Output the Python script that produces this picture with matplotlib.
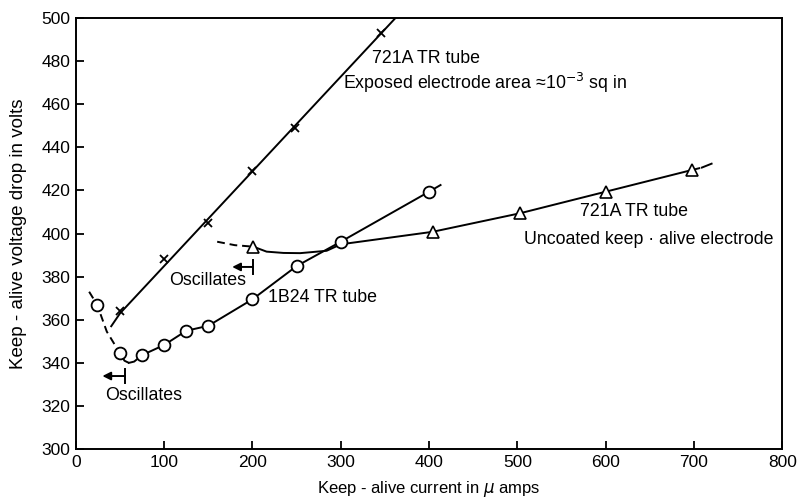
import matplotlib
matplotlib.use("Agg")
import matplotlib.pyplot as plt

plt.rcParams['font.family'] = ['Liberation Sans', 'DejaVu Sans']

# 721A TR tube, exposed electrode (x markers)
cross_x = [50, 100, 150, 200, 248, 345]
cross_y = [364, 388, 405, 429, 449, 493]
cross_line_x = [40, 50, 362]
cross_line_y = [357, 363, 500]

# 1B24 TR tube (circles)
circ_x = [24, 50, 75, 100, 125, 150, 200, 250, 300, 400]
circ_y = [367, 344.4, 343.6, 348.3, 354.9, 357.2, 369.5, 384.9, 396.2, 419.4]
circ_dash_x = [15, 24, 35, 50, 55, 60]
circ_dash_y = [373, 367, 354.5, 344.4, 341, 340]
circ_line_x = [60, 66, 75, 100, 125, 150, 200, 250, 300, 400, 413]
circ_line_y = [340, 340.6, 343.6, 348.3, 354.9, 357.2, 369.5, 384.9, 396.2, 419.4, 422.5]

# 721A TR tube, uncoated keep-alive electrode (triangles)
tri_x = [201, 404, 503, 600, 698]
tri_y = [393.9, 400.8, 409.4, 419.4, 429.5]
tri_dash_x = [160, 180, 201]
tri_dash_y = [396.2, 394.6, 393.9]
tri_line_x = [201, 216, 235, 254, 284, 300, 404, 503, 600, 698, 706]
tri_line_y = [393.9, 391.6, 391.0, 390.9, 392.0, 395.0, 400.8, 409.4, 419.4, 429.5, 430.3]
tri_end_x = [709, 720]
tri_end_y = [430.6, 432.4]

fig = plt.figure(figsize=(7.99, 4.99), dpi=100)
ax = fig.add_axes([0.095, 0.1, 0.884, 0.864])

lw = 1.4
k = 'black'
ax.plot(cross_line_x, cross_line_y, color=k, lw=lw)
ax.plot(cross_x, cross_y, 'x', color=k, ms=5.5, mew=1.3)

ax.plot(circ_dash_x, circ_dash_y, color=k, lw=lw, ls=(0, (4, 2.5)))
ax.plot(circ_line_x, circ_line_y, color=k, lw=lw)
ax.plot(circ_x, circ_y, 'o', color=k, mfc='white', ms=8.5, mew=1.3, zorder=3)

ax.plot(tri_dash_x, tri_dash_y, color=k, lw=lw, ls=(0, (4, 2.5)))
ax.plot(tri_line_x, tri_line_y, color=k, lw=lw)
ax.plot(tri_end_x, tri_end_y, color=k, lw=lw)
ax.plot(tri_x, tri_y, '^', color=k, mfc='white', ms=8, mew=1.2, zorder=3)

fs = 12.8
ax.text(335, 481.4, "721A TR tube", fontsize=fs, va='center')
ax.text(302, 469.8, "Exposed electrode area \u224810$^{-3}$ sq in", fontsize=fs, va='center')
ax.text(571, 410.4, "721A TR tube", fontsize=fs, va='center')
ax.text(508, 397, "Uncoated keep \u00b7 alive electrode", fontsize=fs, va='center')
ax.text(218, 370.5, "1B24 TR tube", fontsize=fs, va='center')
ax.text(106, 378.4, "Oscillates", fontsize=fs, va='center')
ax.text(33, 325, "Oscillates", fontsize=fs, va='center')

# "oscillates" arrows: arrow head to the left, bar at the limit
for bx, by, hx in [(200.3, 384.5, 177), (55.6, 333.9, 30)]:
    ax.annotate('', xy=(hx, by), xytext=(bx, by),
                arrowprops=dict(arrowstyle='-|>', color=k, lw=1.4,
                                mutation_scale=12, shrinkA=0, shrinkB=0))
    ax.plot([bx, bx], [by - 3.4, by + 3.4], color=k, lw=1.4)

ax.set_xlim(0, 800)
ax.set_ylim(300, 500)
ax.set_xticks(range(0, 801, 100))
ax.set_yticks(range(300, 501, 20))
ax.tick_params(direction='in', length=6, width=1.3, labelsize=12.5, pad=4)
for s in ax.spines.values():
    s.set_linewidth(1.4)

ax.set_xlabel("Keep - alive current in $\\mu$ amps", fontsize=12, labelpad=7)
ax.set_ylabel("Keep - alive voltage drop in volts", fontsize=13.5, labelpad=10)

fig.savefig("out.png", dpi=100)
